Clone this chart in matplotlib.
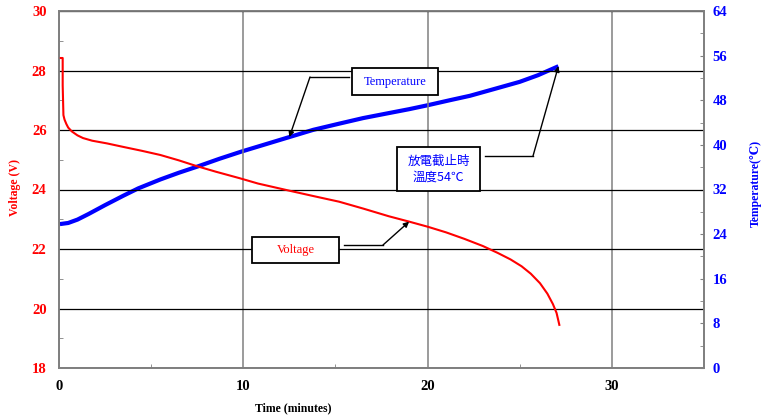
import matplotlib.pyplot as plt
from matplotlib.patches import Rectangle
from matplotlib.ticker import MultipleLocator

# discharge curve
volt_time = [0.1, 0.2, 0.2, 0.24, 0.3, 0.4, 0.5, 0.7, 1.0, 1.3, 1.8, 2.6, 3.5,
             4.5, 5.5, 6.5, 7.4, 8.5, 9.8, 10.8, 12.5, 13.8, 15.2, 16.5, 17.9,
             19.0, 20.0, 21.0, 22.0, 23.0, 23.8, 24.5, 25.1, 25.6, 26.1, 26.5,
             26.8, 27.0, 27.15]
voltage = [28.42, 28.42, 27.5, 26.5, 26.35, 26.2, 26.08, 25.95, 25.82, 25.73,
           25.64, 25.55, 25.43, 25.3, 25.16, 24.98, 24.8, 24.6, 24.38, 24.2,
           23.96, 23.78, 23.59, 23.36, 23.1, 22.92, 22.75, 22.56, 22.34, 22.1,
           21.87, 21.65, 21.42, 21.17, 20.85, 20.5, 20.15, 19.85, 19.45]

temp_time = [0.05, 0.5, 1.0, 1.6, 2.5, 3.5, 4.3, 5.5, 6.5, 7.5, 8.7, 9.9, 11.2,
             12.5, 13.8, 15.2, 16.5, 17.9, 19.0, 20.0, 21.2, 22.3, 23.6, 25.0,
             26.0, 27.1]
temperature = [25.8, 26.0, 26.6, 27.6, 29.2, 30.9, 32.2, 33.8, 35.0, 36.1, 37.5,
               38.8, 40.1, 41.4, 42.7, 43.8, 44.8, 45.7, 46.4, 47.1, 48.0, 48.8,
               50.0, 51.3, 52.5, 54.1]

x_ticks = [0, 10, 20, 30]
v_ticks = [18, 20, 22, 24, 26, 28, 30]
t_ticks = [0, 8, 16, 24, 32, 40, 48, 56, 64]

SERIF = ['Liberation Serif', 'DejaVu Serif']
CJK = ['Noto Sans CJK TC', 'DejaVu Sans']
GRAY = '#808080'

fig = plt.figure(figsize=(7.62, 4.17), dpi=100)
L, R, T, B = 59, 704, 11, 368
ax = fig.add_axes([L / 762, 1 - B / 417, (R - L) / 762, (B - T) / 417])
ax2 = ax.twinx()


def px(x, y):
    # image pixel -> axes fraction
    return (x - L) / (R - L), (B - y) / (B - T)


ax.set_xlim(0, 35)
ax.set_ylim(18, 30)
ax2.set_ylim(0, 64)
ax.set_xticks(x_ticks)
ax.set_yticks(v_ticks)
ax2.set_yticks(t_ticks)
ax.xaxis.set_minor_locator(MultipleLocator(5))
ax.yaxis.set_minor_locator(MultipleLocator(1))
ax2.yaxis.set_minor_locator(MultipleLocator(4))

ax.grid(axis='y', color='black', lw=0.9)
ax.grid(axis='x', color=GRAY, lw=1.1)
ax.set_axisbelow(True)

for a in (ax, ax2):
    for s in a.spines.values():
        s.set_color(GRAY)
        s.set_linewidth(1.3)
    a.tick_params(which='both', direction='in', color=GRAY, length=3)

ax.tick_params(axis='y', which='major', length=0, pad=9, labelcolor='red')
ax.tick_params(axis='x', which='major', length=0, pad=9)
ax2.tick_params(axis='y', which='major', pad=6, labelcolor='blue')
for lab in ax.get_xticklabels() + ax.get_yticklabels() + ax2.get_yticklabels():
    lab.set_family(SERIF)
    lab.set_fontweight('bold')
    lab.set_fontsize(10.5)

ax2.plot(temp_time, temperature, color='blue', lw=3, solid_capstyle='butt', zorder=3)
ax.plot(volt_time, voltage, color='red', lw=1.5, zorder=3)
ax.set_zorder(ax2.get_zorder() + 1)
ax.patch.set_visible(False)

ax.set_xlabel('Time (minutes)', family=SERIF, fontweight='bold', fontsize=8.5)
ax.xaxis.set_label_coords(0.363, -0.095)
ax.set_ylabel('Voltage (V)', family=SERIF, fontweight='bold', fontsize=8.5, color='red')
ax.yaxis.set_label_coords(-0.059, 0.507)
ax2.set_ylabel('Temperature(℃)', family=SERIF + CJK, fontweight='bold', fontsize=8.5,
               color='blue')
ax2.yaxis.set_label_coords(1.071, 0.518)


def box(x0, y0, x1, y1):
    a0 = px(x0, y1)
    a1 = px(x1, y0)
    ax.add_patch(Rectangle(a0, a1[0] - a0[0], a1[1] - a0[1], transform=ax.transAxes,
                           facecolor='white', edgecolor='black', lw=1.3, zorder=5))
    return ((a0[0] + a1[0]) / 2, (a0[1] + a1[1]) / 2)


def leader(p_start, p_corner, tip, target_ax):
    s = px(*p_start)
    c = px(*p_corner)
    ax.plot([s[0], c[0]], [s[1], c[1]], color='black', lw=1, transform=ax.transAxes,
            zorder=5)
    target_ax.annotate('', xy=tip, xycoords='data', xytext=c, textcoords=ax.transAxes,
                       arrowprops=dict(arrowstyle='-|>', color='black', lw=1,
                                       mutation_scale=8, shrinkA=0, shrinkB=0),
                       zorder=6)


c = box(352, 68, 438, 95)
ax.text(*c, 'Temperature', transform=ax.transAxes, ha='center', va='center',
        family=SERIF, fontsize=9, color='blue', zorder=6)
leader((349, 77), (310, 77), (temp_time[13], temperature[13]), ax2)

c = box(397, 147, 480, 191)
ax.text(*c, '放電截止時\n溫度54℃', transform=ax.transAxes, ha='center', va='center',
        family=CJK, fontsize=9, color='blue', linespacing=1.3, zorder=6)
leader((485, 156), (533, 156), (temp_time[-1], temperature[-1]), ax2)

c = box(252, 237, 339, 263)
ax.text(*c, 'Voltage', transform=ax.transAxes, ha='center', va='center',
        family=SERIF, fontsize=9, color='red', zorder=6)
leader((344, 245), (383, 245), (volt_time[25], voltage[25]), ax)

fig.savefig('out.png', dpi=100)
